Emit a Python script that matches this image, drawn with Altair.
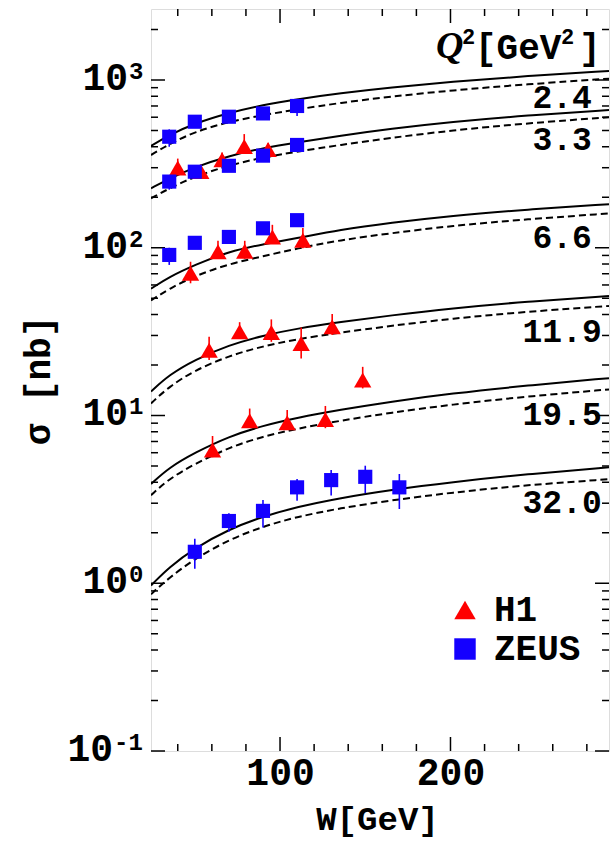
import altair as alt
import pandas as pd

# ---------------------------------------------------------------- data
Q2_BINS = ["2.4", "3.3", "6.6", "11.9", "19.5", "32.0"]

# model cross sections sigma [nb] sampled at W [GeV]
CURVE_W = [24.3, 35, 50, 70, 90, 110, 135, 165, 200, 245, 293]
SOLID_CURVES = {
    "2.4": [405, 470, 552, 638, 710, 768, 833, 902, 974, 1057, 1132],
    "3.3": [226, 258, 303, 353, 393, 425, 465, 512, 562, 615, 662],
    "6.6": [57, 67, 79, 95, 105, 114, 128, 141, 155, 169, 182],
    "11.9": [13.9, 17.5, 21.5, 26.3, 30.0, 33.0, 36.0, 39.5, 43.5, 47.8, 51.5],
    "19.5": [3.9, 4.9, 6.0, 7.5, 8.7, 9.7, 10.8, 12.1, 13.5, 15.1, 16.7],
    "32.0": [0.97, 1.25, 1.62, 2.10, 2.50, 2.85, 3.22, 3.60, 4.00, 4.47, 4.91],
}
DASHED_CURVES = {
    "2.4": [357, 415, 492, 564, 618, 668, 730, 797, 866, 944, 1018],
    "3.3": [197, 226, 266, 310, 346, 374, 410, 452, 500, 552, 600],
    "6.6": [48.5, 57, 68, 80, 89, 99, 111, 122, 135, 148, 160],
    "11.9": [11.8, 14.9, 18.6, 22.7, 25.9, 28.5, 31.2, 34.2, 37.8, 41.6, 45.0],
    "19.5": [3.35, 4.2, 5.15, 6.45, 7.5, 8.35, 9.3, 10.4, 11.6, 13.0, 14.3],
    "32.0": [0.86, 1.08, 1.40, 1.82, 2.18, 2.49, 2.80, 3.12, 3.47, 3.85, 4.17],
}

# H1 measurements
H1_Q2 = ["3.3"] * 5 + ["6.6"] * 5 + ["11.9"] * 6 + ["19.5"] * 4
H1_W = [40, 53.5, 66, 79, 93,
        47.5, 63.6, 79.3, 95.5, 113.4,
        58.4, 76.3, 94.9, 112.4, 130.6, 148.5,
        60.4, 82.2, 104.2, 126.6]
H1_SIGMA = [299, 285, 335, 402, 385,
            70.5, 94.6, 95.4, 116, 111,
            24.5, 31.6, 31.2, 26.9, 33.8, 16.3,
            6.22, 9.31, 9.06, 9.48]
H1_LOW = [280, 268, 315, 385, 355,
          61.4, 85.7, 86, 106, 99.3,
          21.4, 29.5, 27.5, 21.9, 30.2, 14.5,
          5.64, 8.57, 8.2, 8.4]
H1_HIGH = [340, 300, 370, 476, 420,
           82.5, 110, 110, 137, 131,
           29.5, 36, 37.4, 33.5, 40.3, 19.5,
           7.55, 11.0, 10.8, 11.4]

# ZEUS measurements
ZEUS_Q2 = ["2.4"] * 5 + ["3.3"] * 5 + ["6.6"] * 5 + ["32.0"] * 7
ZEUS_W = [35, 50, 70, 90, 110,
          35, 50, 70, 90, 110,
          35, 50, 70, 90, 110,
          50, 70, 90, 110, 130, 150, 170]
ZEUS_SIGMA = [459, 564, 604, 632, 700,
              248, 284, 308, 354, 410,
              90.6, 107, 116, 130.6, 146,
              1.54, 2.35, 2.70, 3.73, 4.12, 4.31, 3.73]
ZEUS_LOW = [400, 540, 585, 600, 610,
            222, 268, 290, 330, 385,
            79, 99, 110, 124, 136,
            1.22, 2.03, 2.15, 3.10, 3.33, 3.44, 2.77]
ZEUS_HIGH = [508, 590, 625, 665, 740,
             265, 300, 325, 372, 432,
             100, 114, 122, 137, 155,
             1.84, 2.61, 3.13, 4.18, 4.73, 5.02, 4.48]

# anchor of each Q^2 tag, in data units
TAG_W = 265.5
TAG_SIGMA = [782, 439, 114, 31.5, 10.1, 3.0]

# axis ticks
X_MAJOR = [100, 200]
X_MINOR = [40, 60, 80, 120, 140, 160, 180, 220, 240, 260, 280]
Y_MAJOR = [0.1, 1, 10, 100, 1000]
Y_EXPONENTS = ["-1", "0", "1", "2", "3"]
Y_MINOR = [round(m * d, 3) for d in Y_MAJOR for m in range(2, 10) if m * d <= 2650]

# ---------------------------------------------------------------- frames
PLOT_W, PLOT_H = 458, 742
FONT = "Liberation Mono"
RED, BLUE = "#ff0000", "#1400ff"

rows = []
for q in Q2_BINS:
    for w, s in zip(CURVE_W, SOLID_CURVES[q]):
        rows.append({"q2": q, "model": "solid", "W": w, "sigma": s})
    for w, s in zip(CURVE_W, DASHED_CURVES[q]):
        rows.append({"q2": q, "model": "dashed", "W": w, "sigma": s})
curves = pd.DataFrame(rows)

points = pd.DataFrame({
    "exp": ["H1"] * len(H1_W) + ["ZEUS"] * len(ZEUS_W),
    "q2": H1_Q2 + ZEUS_Q2,
    "W": H1_W + ZEUS_W,
    "sigma": H1_SIGMA + ZEUS_SIGMA,
    "low": H1_LOW + ZEUS_LOW,
    "high": H1_HIGH + ZEUS_HIGH,
})

tags = pd.DataFrame({"q2": Q2_BINS, "W": [TAG_W] * len(Q2_BINS), "sigma": TAG_SIGMA})
ylabels = pd.DataFrame({"sigma": Y_MAJOR, "exp": Y_EXPONENTS})

x_scale = alt.Scale(domain=[24.3, 293.0], nice=False, zero=False)
y_scale = alt.Scale(type="log", domain=[0.1, 2650.0], nice=False)

x_axis = alt.Axis(
    values=X_MAJOR, format="d", ticks=False, tickSize=0, domain=False, grid=False,
    labelFont=FONT, labelFontSize=38, labelFontWeight="bold", labelColor="black",
    labelBaseline="middle", labelPadding=22,
    title="W[GeV]", titleFont=FONT, titleFontSize=34, titleFontWeight="bold",
    titleColor="black", titleX=226, titleY=68, titleAlign="center", titleBaseline="middle",
)
y_axis = alt.Axis(
    labels=False, ticks=False, domain=False, grid=False,
    title="σ [nb]", titleFont=FONT, titleFontSize=36, titleFontWeight="bold",
    titleColor="black", titleX=-113, titleY=371, titleAngle=270,
    titleAlign="center", titleBaseline="middle",
)


def X(field="W"):
    return alt.X(f"{field}:Q", scale=x_scale, axis=x_axis, title="W[GeV]")


def Y(field="sigma"):
    return alt.Y(f"{field}:Q", scale=y_scale, axis=y_axis, title="σ [nb]")


color_scale = alt.Scale(domain=["H1", "ZEUS"], range=[RED, BLUE])
shape_scale = alt.Scale(domain=["H1", "ZEUS"], range=["triangle-up", "square"])
legend = alt.Legend(
    title=None, orient="none", legendX=296, legendY=583, padding=0,
    labelFont=FONT, labelFontSize=36, labelFontWeight="bold", labelColor="black",
    symbolSize=460, symbolStrokeWidth=0, symbolOpacity=1, labelOffset=11, rowPadding=3,
)

# ---------------------------------------------------------------- layers
solid = alt.Chart(curves).transform_filter("datum.model == 'solid'").mark_line(
    color="black", strokeWidth=2, interpolate="basis", clip=True
).encode(x=X(), y=Y(), detail="q2:N")

dashed = alt.Chart(curves).transform_filter("datum.model == 'dashed'").mark_line(
    color="black", strokeWidth=2, strokeDash=[7, 4], interpolate="basis", clip=True
).encode(x=X(), y=Y(), detail="q2:N")

err_h1 = alt.Chart(points).transform_filter("datum.exp == 'H1'").mark_rule(
    strokeWidth=1.6, color=RED
).encode(x=X(), y=Y("low"), y2="high:Q")
err_zeus = alt.Chart(points).transform_filter("datum.exp == 'ZEUS'").mark_rule(
    strokeWidth=1.6, color=BLUE
).encode(x=X(), y=Y("low"), y2="high:Q")


def markers(name, size):
    return alt.Chart(points).transform_filter(f"datum.exp == '{name}'").mark_point(
        filled=True, size=size, opacity=1
    ).encode(
        x=X(), y=Y(),
        color=alt.Color("exp:N", scale=color_scale, legend=legend),
        shape=alt.Shape("exp:N", scale=shape_scale, legend=legend),
    )


h1 = markers("H1", 300)
zeus = markers("ZEUS", 200)


def xticks(values, length):
    base = alt.Chart(pd.DataFrame({"W": values})).mark_rule(color="black", strokeWidth=1.5)
    bottom = base.encode(x=X(), y=alt.value(PLOT_H), y2=alt.value(PLOT_H - length))
    top = base.encode(x=X(), y=alt.value(0), y2=alt.value(length))
    return [bottom, top]


def yticks(values, length):
    base = alt.Chart(pd.DataFrame({"sigma": values})).mark_rule(color="black", strokeWidth=1.5)
    left = base.encode(y=Y(), x=alt.value(0), x2=alt.value(length))
    right = base.encode(y=Y(), x=alt.value(PLOT_W), x2=alt.value(PLOT_W - length))
    return [left, right]


tick_layers = xticks(X_MAJOR, 14) + xticks(X_MINOR, 7) + yticks(Y_MAJOR, 14) + yticks(Y_MINOR, 7)

# y labels drawn as "10" with a raised exponent
text_style = dict(font=FONT, fontWeight="bold", color="black")
ylab_layers = []
for n, gap in [(1, -22), (2, -37)]:
    base = alt.Chart(ylabels).transform_filter(f"length(datum.exp) == {n}")
    ylab_layers.append(base.mark_text(align="right", baseline="middle", fontSize=38, dy=-1, **text_style)
                       .encode(x=alt.value(gap - 1), y=Y(), text=alt.value("10")))
    ylab_layers.append(base.mark_text(align="left", baseline="middle", fontSize=24, dy=-8, **text_style)
                       .encode(x=alt.value(gap), y=Y(), text="exp:N"))

tag_layer = alt.Chart(tags).mark_text(align="center", baseline="middle", fontSize=33, **text_style).encode(
    x=X(), y=Y(), text="q2:N"
)

one = pd.DataFrame({"k": [0]})
header = [
    alt.Chart(one).mark_text(text="Q", align="left", baseline="alphabetic", font="Liberation Serif",
                             fontSize=38, fontWeight="bold", fontStyle="italic", color="black")
    .encode(x=alt.value(285), y=alt.value(49)),
    alt.Chart(one).mark_text(text="2", align="left", baseline="alphabetic", fontSize=22, **text_style)
    .encode(x=alt.value(311), y=alt.value(35)),
    alt.Chart(one).mark_text(text="[GeV", align="left", baseline="alphabetic", fontSize=36, **text_style)
    .encode(x=alt.value(324), y=alt.value(50)),
    alt.Chart(one).mark_text(text="2", align="left", baseline="alphabetic", fontSize=22, **text_style)
    .encode(x=alt.value(410), y=alt.value(35)),
    alt.Chart(one).mark_text(text="]", align="left", baseline="alphabetic", fontSize=36, **text_style)
    .encode(x=alt.value(428), y=alt.value(50)),
]

chart = alt.layer(
    solid, dashed, *tick_layers, err_h1, err_zeus, h1, zeus, tag_layer, *ylab_layers, *header
).properties(
    width=PLOT_W, height=PLOT_H,
    autosize=alt.AutoSizeParams(type="none"),
    padding={"left": 151, "top": 9, "right": 1, "bottom": 90},
).configure_view(stroke="black", strokeWidth=2).configure(background="white")

chart.save("out.html", embed_options={"renderer": "svg", "actions": False})
